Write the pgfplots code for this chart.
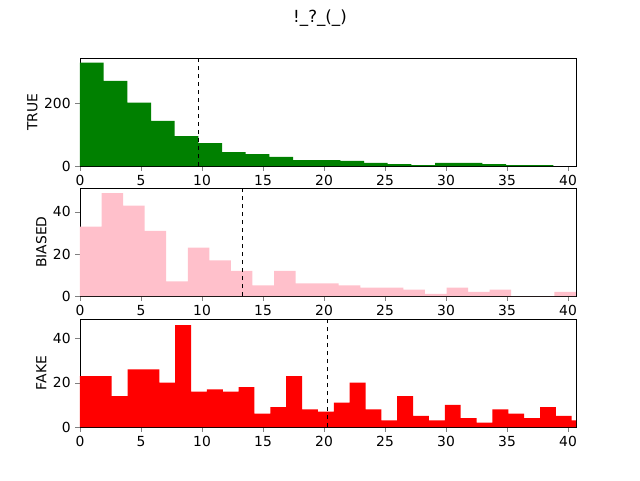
\documentclass[border=0pt]{standalone}
\usepackage{pgfplots}
\pgfplotsset{compat=1.18}
\usepackage{fontspec}
\setmainfont{DejaVu Sans}
\pgfplotsset{
  h/.style={width=372pt,height=81pt,scale only axis,xmin=0,xmax=40.65,ymin=0,
    xtick={0,5,...,40},tick align=outside,xtick pos=bottom,ytick pos=left,
    major tick length=3.5pt,
    /pgf/number format/assume math mode=true,
    tick label style={font=\fontsize{10.4}{12}\selectfont},
    label style={font=\fontsize{10.4}{12}\selectfont},
    ylabel style={yshift=-2pt},
    anchor=south west},
}
\begin{document}
\begin{tikzpicture}
\path (0,0) rectangle (480pt,360pt);
\node[font=\fontsize{12.5}{14}\selectfont] at (240pt,346.5pt) {!\_?\_(\_)};
\begin{axis}[h,at={(60pt,235.5pt)},ymax=343,ytick={0,200},ylabel={TRUE}]
\addplot[ybar interval,fill={rgb,255:red,0;green,128;blue,0},draw=none] coordinates {
(0,328)(1.94,270)(3.88,201)(5.82,143)(7.76,95)(9.70,73)(11.64,44)(13.58,38)(15.52,29)(17.46,19)
(19.40,19)(21.34,16)(23.28,10)(25.22,6)(27.16,3)(29.10,10)(31.04,10)(32.98,6)(34.92,3)(36.86,3)(38.80,3)};
\addplot[black,dashed,thin] coordinates {(9.7,0)(9.7,343)};
\end{axis}
\begin{axis}[h,at={(60pt,138pt)},ymax=51.4,ytick={0,20,40},ylabel={BIASED}]
\addplot[ybar interval,fill={rgb,255:red,255;green,192;blue,203},draw=none] coordinates {
(0,33)(1.767,49)(3.534,43)(5.301,31)(7.068,7)(8.835,23)(10.602,17)(12.369,12)(14.136,5)(15.903,12)
(17.67,6)(19.437,6)(21.204,5)(22.971,4)(24.738,4)(26.505,3)(28.272,1)(30.039,4)(31.806,2)(33.573,3)
(35.34,0)(37.107,0)(38.874,2)(40.641,2)};
\addplot[black,dashed,thin] coordinates {(13.3,0)(13.3,51.4)};
\end{axis}
\begin{axis}[h,at={(60pt,39.75pt)},ymax=48.8,ytick={0,20,40},ylabel={FAKE}]
\addplot[ybar interval,fill=red,draw=none] coordinates {
(0,23)(1.3,23)(2.6,14)(3.9,26)(5.2,26)(6.5,20)(7.8,46)(9.1,16)(10.4,17)(11.7,16)
(13.0,18)(14.3,6)(15.6,9)(16.9,23)(18.2,8)(19.5,7)(20.8,11)(22.1,20)(23.4,8)(24.7,3)
(26.0,14)(27.3,5)(28.6,3)(29.9,10)(31.2,4)(32.5,2)(33.8,8)(35.1,6)(36.4,4)(37.7,9)
(39.0,5)(40.3,3)(41.6,3)};
\addplot[black,dashed,thin] coordinates {(20.3,0)(20.3,48.8)};
\end{axis}
\end{tikzpicture}
\end{document}
